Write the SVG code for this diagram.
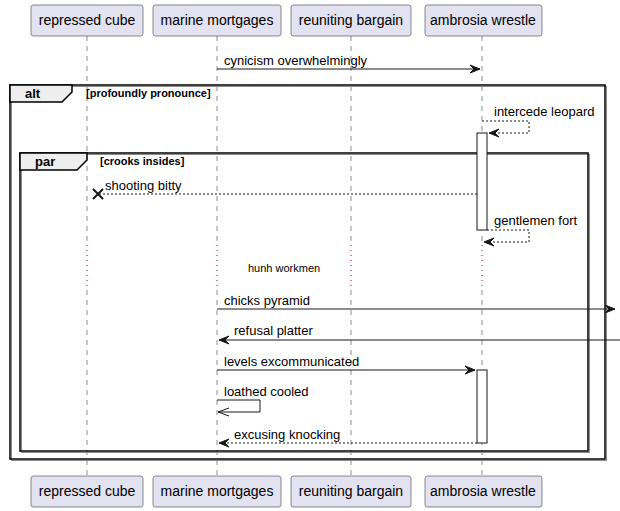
<svg xmlns="http://www.w3.org/2000/svg" width="620" height="511" viewBox="0 0 620 511">
<style>
.pbox{fill:#E2E2F0;stroke:#181818;stroke-width:0.5}
.ptxt{font-family:"Liberation Sans",Arial,sans-serif;font-size:14px;fill:#000;text-anchor:middle}
.life{stroke:#181818;stroke-width:0.5;stroke-dasharray:5,5;fill:none}
.delay{stroke:#A80036;stroke-width:1;stroke-dasharray:1,4;fill:none}
.msg{stroke:#181818;stroke-width:1;fill:none}
.dash{stroke:#181818;stroke-width:1;fill:none;stroke-dasharray:2,2}
.head{fill:#181818;stroke:#181818;stroke-width:1}
.mtxt{font-family:"Liberation Sans",Arial,sans-serif;font-size:13px;fill:#000}
.act{fill:#FFFFFF;stroke:#181818;stroke-width:1}
.frame{fill:none;stroke:#000;stroke-width:1.5}
.shadow{fill:none;stroke:#8A8A8A;stroke-width:1}
.tab{fill:#EEEEEE;stroke:#000;stroke-width:1.5}
.gname{font-family:"Liberation Sans",Arial,sans-serif;font-size:13px;font-weight:bold;fill:#000}
.gcond{font-family:"Liberation Sans",Arial,sans-serif;font-size:11px;font-weight:bold;fill:#000}
.dtxt{font-family:"Liberation Sans",Arial,sans-serif;font-size:11px;fill:#000}
</style>
<g id="lifelines">
<path class="life" d="M87,36 V245 M87,290 V476 M217,36 V245 M217,290 V476 M351,36 V245 M351,290 V476 M482,36 V245 M482,290 V476"/>
<path class="delay" d="M87,245 V290 M217,245 V290 M351,245 V290 M482,245 V290"/>
</g>
<g id="frame-alt">
<rect class="shadow" x="11.5" y="86.5" width="595" height="374"/>
<rect class="frame" x="10" y="85" width="595" height="374"/>
<path class="tab" d="M10,85 L72,85 L72,92 L62,102 L10,102 Z"/>
<text class="gname" x="25" y="98">alt</text>
<text class="gcond" x="86" y="97">[profoundly pronounce]</text>
</g>
<g id="frame-par">
<rect class="shadow" x="21.5" y="154.5" width="568" height="298"/>
<rect class="frame" x="20" y="153" width="568" height="298"/>
<path class="tab" d="M20,153 L87,153 L87,160 L77,170 L20,170 Z"/>
<text class="gname" x="35" y="166">par</text>
<text class="gcond" x="100" y="165">[crooks insides]</text>
</g>
<g id="activations">
<rect class="act" x="477" y="133" width="10" height="97"/>
<rect class="act" x="477" y="370" width="10" height="73"/>
</g>
<g id="connectors">
<path class="msg" d="M217,69 H480"/>
<polygon class="head" points="470,65 480,69 470,73 474,69"/>
<text class="mtxt" x="224" y="65">cynicism overwhelmingly</text>

<path class="dash" d="M482,121 H529 V133 H489"/>
<polygon class="head" points="499,129 489,133 499,137 495,133"/>
<text class="mtxt" x="494" y="116">intercede leopard</text>

<path class="dash" d="M477,194 H98"/>
<path d="M93,189 L103,199 M93,199 L103,189" stroke="#181818" stroke-width="2" fill="none"/>
<text class="mtxt" x="105" y="190">shooting bitty</text>

<path class="dash" d="M487,230 H529 V242 H484"/>
<polygon class="head" points="494,238 484,242 494,246 490,242"/>
<text class="mtxt" x="494" y="225">gentlemen fort</text>

<text class="dtxt" x="248" y="272">hunh workmen</text>

<path class="msg" d="M217,309 H615"/>
<polygon class="head" points="605,305 615,309 605,313 609,309"/>
<text class="mtxt" x="224" y="305">chicks pyramid</text>

<path class="msg" d="M620,340 H219"/>
<polygon class="head" points="229,336 219,340 229,344 225,340"/>
<text class="mtxt" x="234" y="335">refusal platter</text>

<path class="msg" d="M217,370 H475"/>
<polygon class="head" points="465,366 475,370 465,374 469,370"/>
<text class="mtxt" x="224" y="366">levels excommunicated</text>

<path class="msg" d="M217,400 H260 V412 H218"/>
<path class="msg" d="M229,408 L218,412 L229,416"/>
<text class="mtxt" x="224" y="396">loathed cooled</text>

<path class="dash" d="M477,443 H219"/>
<polygon class="head" points="229,439 219,443 229,447 225,443"/>
<text class="mtxt" x="234" y="439">excusing knocking</text>
</g>
<g id="p-repressed-cube">
<rect class="pbox" x="31" y="5" width="112" height="31" rx="2.5"/>
<text class="ptxt" x="87" y="25">repressed cube</text>
<rect class="pbox" x="31" y="476" width="112" height="31" rx="2.5"/>
<text class="ptxt" x="87" y="496">repressed cube</text>
</g>
<g id="p-marine-mortgages">
<rect class="pbox" x="153" y="5" width="128" height="31" rx="2.5"/>
<text class="ptxt" x="217" y="25">marine mortgages</text>
<rect class="pbox" x="153" y="476" width="128" height="31" rx="2.5"/>
<text class="ptxt" x="217" y="496">marine mortgages</text>
</g>
<g id="p-reuniting-bargain">
<rect class="pbox" x="291" y="5" width="120" height="31" rx="2.5"/>
<text class="ptxt" x="351" y="25">reuniting bargain</text>
<rect class="pbox" x="291" y="476" width="120" height="31" rx="2.5"/>
<text class="ptxt" x="351" y="496">reuniting bargain</text>
</g>
<g id="p-ambrosia-wrestle">
<rect class="pbox" x="425" y="5" width="117" height="31" rx="2.5"/>
<text class="ptxt" x="483" y="25">ambrosia wrestle</text>
<rect class="pbox" x="425" y="476" width="117" height="31" rx="2.5"/>
<text class="ptxt" x="483" y="496">ambrosia wrestle</text>
</g>
</svg>
